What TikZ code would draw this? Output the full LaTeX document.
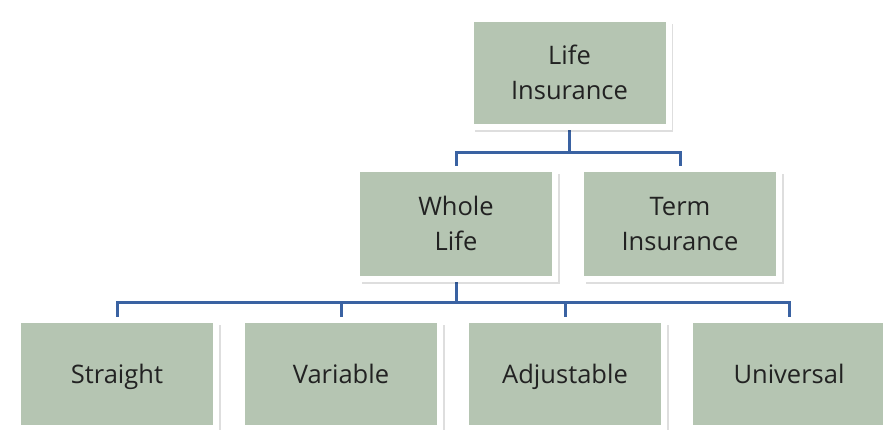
\documentclass[tikz,border=0pt]{standalone}
\usepackage{fontspec}
\setmainfont{Open Sans}
\usetikzlibrary{shadows,backgrounds}
\definecolor{boxfill}{HTML}{B5C5B2}
\definecolor{linkblue}{HTML}{3A62A2}
\definecolor{textcol}{HTML}{222222}
\begin{document}
\begin{tikzpicture}[x=1pt,y=-1pt,
  box/.style={draw=white, line width=6pt, fill=boxfill, minimum width=198pt,
    minimum height=108pt, inner sep=0pt, align=center, text=textcol,
    font=\fontsize{25.5}{35}\selectfont,
    drop shadow={shadow xshift=4.5pt, shadow yshift=-5pt, fill=black, opacity=0.13}},
  twoline/.style={text height=53pt, text depth=0pt},
  oneline/.style={text height=18pt, text depth=0pt},
  link/.style={draw=linkblue, line width=3pt}]
\useasboundingbox (0,0) rectangle (883,429);
\node[box, twoline] (life) at (569.5,73) {Life\\Insurance};
\node[box, twoline, minimum height=110pt] (whole) at (456,224) {Whole\\Life};
\node[box, twoline, minimum height=110pt] (term) at (680,224) {Term\\Insurance};
\node[box, oneline] (s) at (117,374) {Straight};
\node[box, oneline] (v) at (341,374) {Variable};
\node[box, oneline] (a) at (565,374) {Adjustable};
\node[box, oneline] (u) at (789,374) {Universal};
\begin{scope}[on background layer]
  \draw[link] (life.south) -- ++(0,22) coordinate (j1);
  \draw[link] (whole.north) |- (j1) -| (term.north);
  \draw[link] (whole.south) -- ++(0,20) coordinate (j2);
  \draw[link] (s.north) |- (j2) -| (u.north);
  \draw[link] (v.north) -- (v.north |- j2);
  \draw[link] (a.north) -- (a.north |- j2);
\end{scope}
\end{tikzpicture}
\end{document}
